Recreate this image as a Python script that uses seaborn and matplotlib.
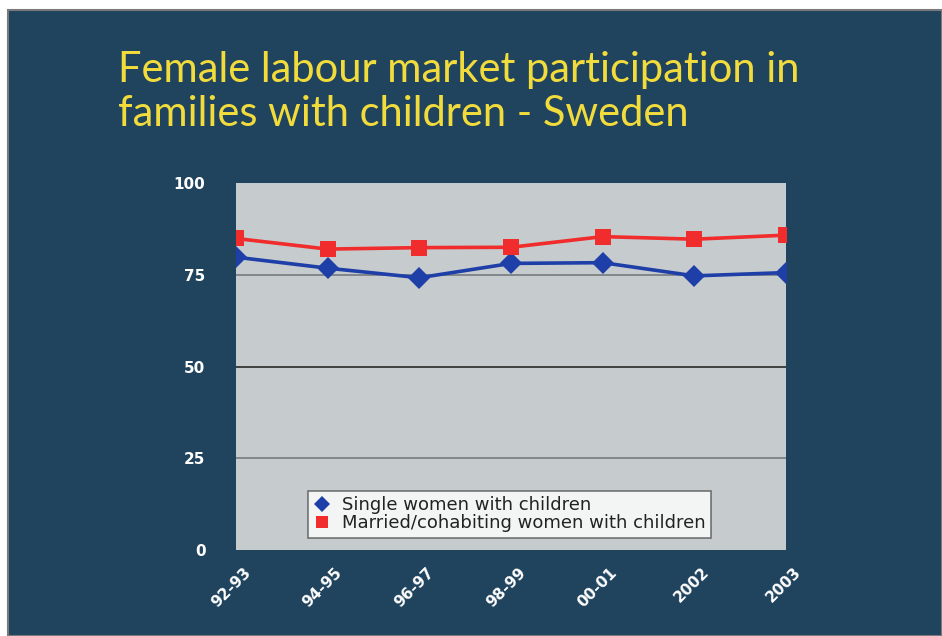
import matplotlib
matplotlib.use("Agg")
import matplotlib.pyplot as plt
import matplotlib.patches as mpatches
import matplotlib.transforms as mtransforms
import seaborn as sns
import pandas as pd

periods = ["92-93", "94-95", "96-97", "98-99", "00-01", "2002", "2003"]
single = [79.8, 76.8, 74.2, 78.1, 78.3, 74.7, 75.6]
married = [84.9, 82.0, 82.4, 82.5, 85.4, 84.7, 85.8]
series_names = ["Single women with children", "Married/cohabiting women with children"]
yticks = [0, 25, 50, 75, 100]

sns.set_theme(style="white")
plt.rcParams['font.family'] = ['DejaVu Sans']

df = pd.DataFrame({
    "period": periods * 2,
    "value": single + married,
    "series": [series_names[0]] * len(periods) + [series_names[1]] * len(periods),
})
df["x"] = list(range(len(periods))) * 2

fig = plt.figure(figsize=(9.42, 6.36), dpi=100)
fig.patch.set_facecolor("white")
bg = mpatches.Rectangle((8 / 942, 0), 1 - 8 / 942, 1 - 10 / 636, transform=fig.transFigure,
                        facecolor="#20445e", edgecolor="#7a7a7a", linewidth=1.5, zorder=-10)
fig.patches.append(bg)

ax = fig.add_axes([0.2505, 0.1352, 0.584, 0.577])
ax.set_zorder(1)
ax.set_facecolor("#c6cbcd")

for y, c in [(25, "#6e7478"), (50, "#1a1a1a"), (75, "#6e7478")]:
    ax.axhline(y, color=c, linewidth=1.1, zorder=1)

palette = {series_names[0]: "#1f3fa8", series_names[1]: "#f02c2c"}
markers = {series_names[0]: "D", series_names[1]: "s"}
sns.lineplot(data=df, x="x", y="value", hue="series", style="series",
             palette=palette, markers=markers, dashes=False, markersize=11,
             markeredgewidth=0, linewidth=2.6, ax=ax, zorder=3, legend=False)

ax.set_xlim(0, len(periods) - 1)
ax.set_ylim(0, 100)
ax.set_xticks(range(len(periods)))
ax.set_xticklabels(periods, rotation=45, ha="right", rotation_mode="anchor",
                   color="white", fontsize=11, fontweight="bold")
ax.set_yticks(yticks)
ax.set_yticklabels([str(t) for t in yticks], color="white", fontsize=11, fontweight="bold")
ax.tick_params(axis="y", pad=22, length=0)
ax.tick_params(axis="x", pad=12, length=0)
ax.set_xlabel("")
ax.set_ylabel("")
for s in ax.spines.values():
    s.set_visible(False)
offset = mtransforms.ScaledTranslation(7 / 100, 2 / 100, fig.dpi_scale_trans)
for lbl in ax.get_xticklabels():
    lbl.set_transform(lbl.get_transform() + offset)
    lbl.set_clip_on(False)

handles = [
    plt.Line2D([], [], marker="D", color="none", markerfacecolor="#1f3fa8", markeredgewidth=0, markersize=8),
    plt.Line2D([], [], marker="s", color="none", markerfacecolor="#f02c2c", markeredgewidth=0, markersize=8),
]
leg = ax.legend(handles, series_names, loc="lower left", bbox_to_anchor=(0.131, 0.033),
                frameon=True, fancybox=False, fontsize=13, handlelength=1.0,
                handletextpad=0.6, borderpad=0.3, labelspacing=0.0, borderaxespad=0)
leg.get_frame().set_facecolor("white")
leg.get_frame().set_edgecolor("#555555")
leg.get_frame().set_linewidth(1.2)
for t in leg.get_texts():
    t.set_color("#222222")

fig.text(0.125, 0.92, "Female labour market participation in\nfamilies with children - Sweden",
         color="#f2dc3c", fontsize=30, ha="left", va="top", linespacing=1.2,
         family=["Lato", "DejaVu Sans"])

fig.savefig("out.png", dpi=100)
